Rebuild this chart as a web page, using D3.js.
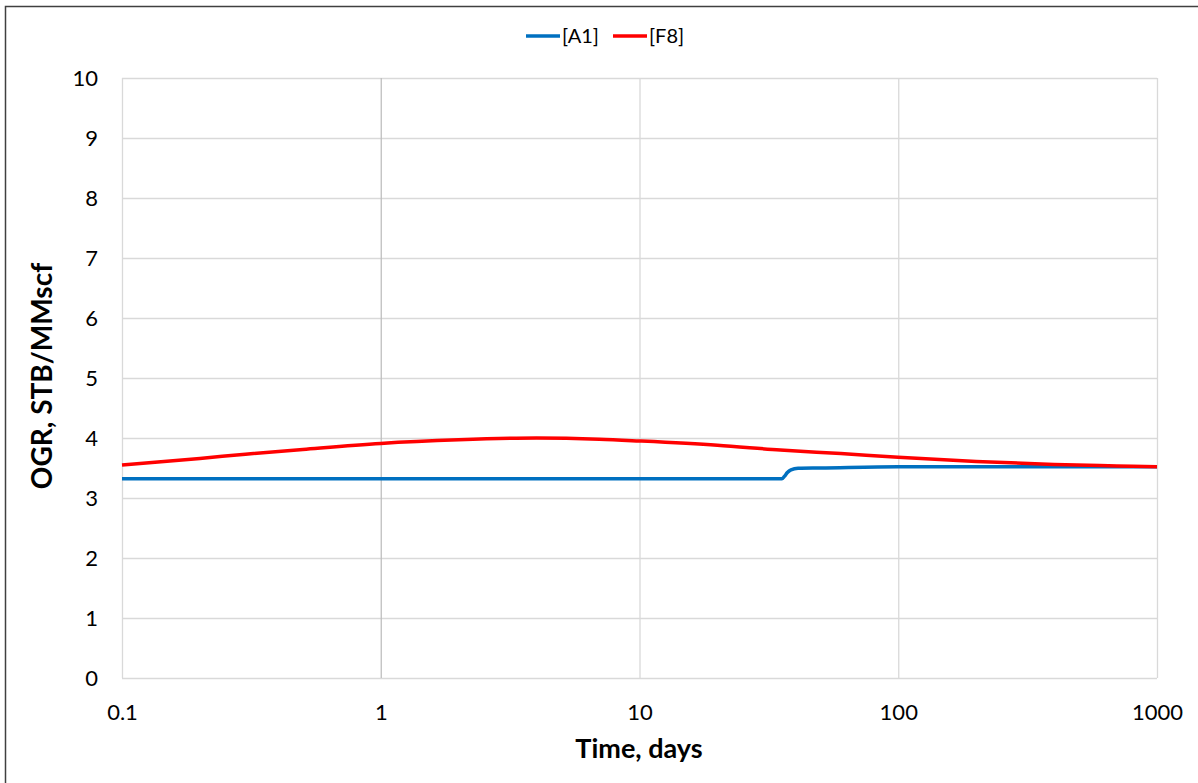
<!DOCTYPE html>
<html>
<head>
<meta charset="utf-8">
<script src="https://cdn.jsdelivr.net/npm/d3@7"></script>
<style>
  html, body { margin: 0; padding: 0; background: #fff; }
  svg { display: block; }
  text { font-family: Lato, "Open Sans", sans-serif; fill: #000; }
</style>
</head>
<body>
<svg id="chart" width="1198" height="783"></svg>
<script>
// Oil-gas ratio vs. time for two wells
const seriesNames = ["[A1]", "[F8]"];
const seriesColors = ["#0070c0", "#ff0000"];

const timeA1 = [0.1, 1, 10, 35.5, 36.3, 37.2, 38.5, 41, 50, 100, 200, 1000];
const ogrA1  = [3.32, 3.32, 3.32, 3.32, 3.36, 3.42, 3.47, 3.495, 3.50, 3.52, 3.52, 3.52];

const timeF8 = [0.1, 0.2, 0.3, 0.5, 1, 2, 4, 7, 10, 20, 35, 60, 100, 200, 400, 700, 1000];
const ogrF8  = [3.55, 3.66, 3.73, 3.81, 3.91, 3.97, 4.00, 3.98, 3.95, 3.88, 3.80, 3.74, 3.68, 3.61, 3.56, 3.535, 3.52];

const xTicks = [0.1, 1, 10, 100, 1000];
const xTickLabels = ["0.1", "1", "10", "100", "1000"];
const yTicks = [0, 1, 2, 3, 4, 5, 6, 7, 8, 9, 10];

const svg = d3.select("#chart");
const plotLeft = 122, plotRight = 1157, plotTop = 78, plotBottom = 678;

const x = d3.scaleLog().domain([0.1, 1000]).range([plotLeft, plotRight]);
const y = d3.scaleLinear().domain([0, 10]).range([plotBottom, plotTop]);

// outer chart frame
svg.append("rect")
  .attr("x", 5.5).attr("y", 6.5)
  .attr("width", 1300).attr("height", 900)
  .attr("fill", "none")
  .attr("stroke", "#404040")
  .attr("stroke-width", 1.5);

// horizontal gridlines
svg.append("g")
  .attr("transform", `translate(${plotLeft},0)`)
  .call(d3.axisLeft(y).tickValues(yTicks).tickSize(-(plotRight - plotLeft)).tickFormat(""))
  .call(g => g.select(".domain").remove())
  .call(g => g.selectAll("line").attr("stroke", "#d9d9d9").attr("stroke-width", 1.3));

// vertical gridlines
svg.append("g")
  .attr("transform", `translate(0,${plotBottom})`)
  .call(d3.axisBottom(x).tickValues(xTicks).tickSize(-(plotBottom - plotTop)).tickFormat(""))
  .call(g => g.select(".domain").remove())
  .call(g => g.selectAll("line")
    .attr("stroke", d => d === 1 ? "#bfbfbf" : "#d9d9d9")
    .attr("stroke-width", 1.3));

// y tick labels
svg.append("g")
  .attr("transform", `translate(${plotLeft - 24},0)`)
  .call(d3.axisLeft(y).tickValues(yTicks).tickSize(0).tickPadding(0))
  .call(g => g.select(".domain").remove())
  .call(g => g.selectAll("text")
    .style("font-size", "22px")
    .attr("dy", "0.36em")
    .attr("fill", "#000"));

// x tick labels
svg.append("g")
  .attr("transform", `translate(0,${plotBottom + 26})`)
  .call(d3.axisBottom(x).tickValues(xTicks).tickSize(0).tickPadding(0)
    .tickFormat((d, i) => xTickLabels[i]))
  .call(g => g.select(".domain").remove())
  .call(g => g.selectAll("text")
    .style("font-size", "22px")
    .attr("dy", "0.71em")
    .attr("fill", "#000"));

// axis titles
svg.append("text")
  .attr("x", 639).attr("y", 758)
  .attr("text-anchor", "middle")
  .style("font-size", "27px").style("font-weight", "bold")
  .text("Time, days");

svg.append("text")
  .attr("transform", "translate(52,376) rotate(-90)")
  .attr("text-anchor", "middle")
  .style("font-size", "28px").style("font-weight", "bold")
  .text("OGR, STB/MMscf");

// series lines
const line = d3.line()
  .x(d => x(d[0]))
  .y(d => y(d[1]))
  .curve(d3.curveMonotoneX);

const series = [
  d3.zip(timeA1, ogrA1),
  d3.zip(timeF8, ogrF8)
];

series.forEach((pts, i) => {
  svg.append("path")
    .datum(pts)
    .attr("fill", "none")
    .attr("stroke", seriesColors[i])
    .attr("stroke-width", 3.5)
    .attr("stroke-linejoin", "round")
    .attr("d", line);
});

// legend
const legendX = [526, 613];
const legend = svg.append("g");
seriesNames.forEach((name, i) => {
  legend.append("line")
    .attr("x1", legendX[i]).attr("x2", legendX[i] + 34)
    .attr("y1", 36).attr("y2", 36)
    .attr("stroke", seriesColors[i])
    .attr("stroke-width", 3.5);
  legend.append("text")
    .attr("x", legendX[i] + 36).attr("y", 43)
    .style("font-size", "20px")
    .text(name);
});
</script>
</body>
</html>
